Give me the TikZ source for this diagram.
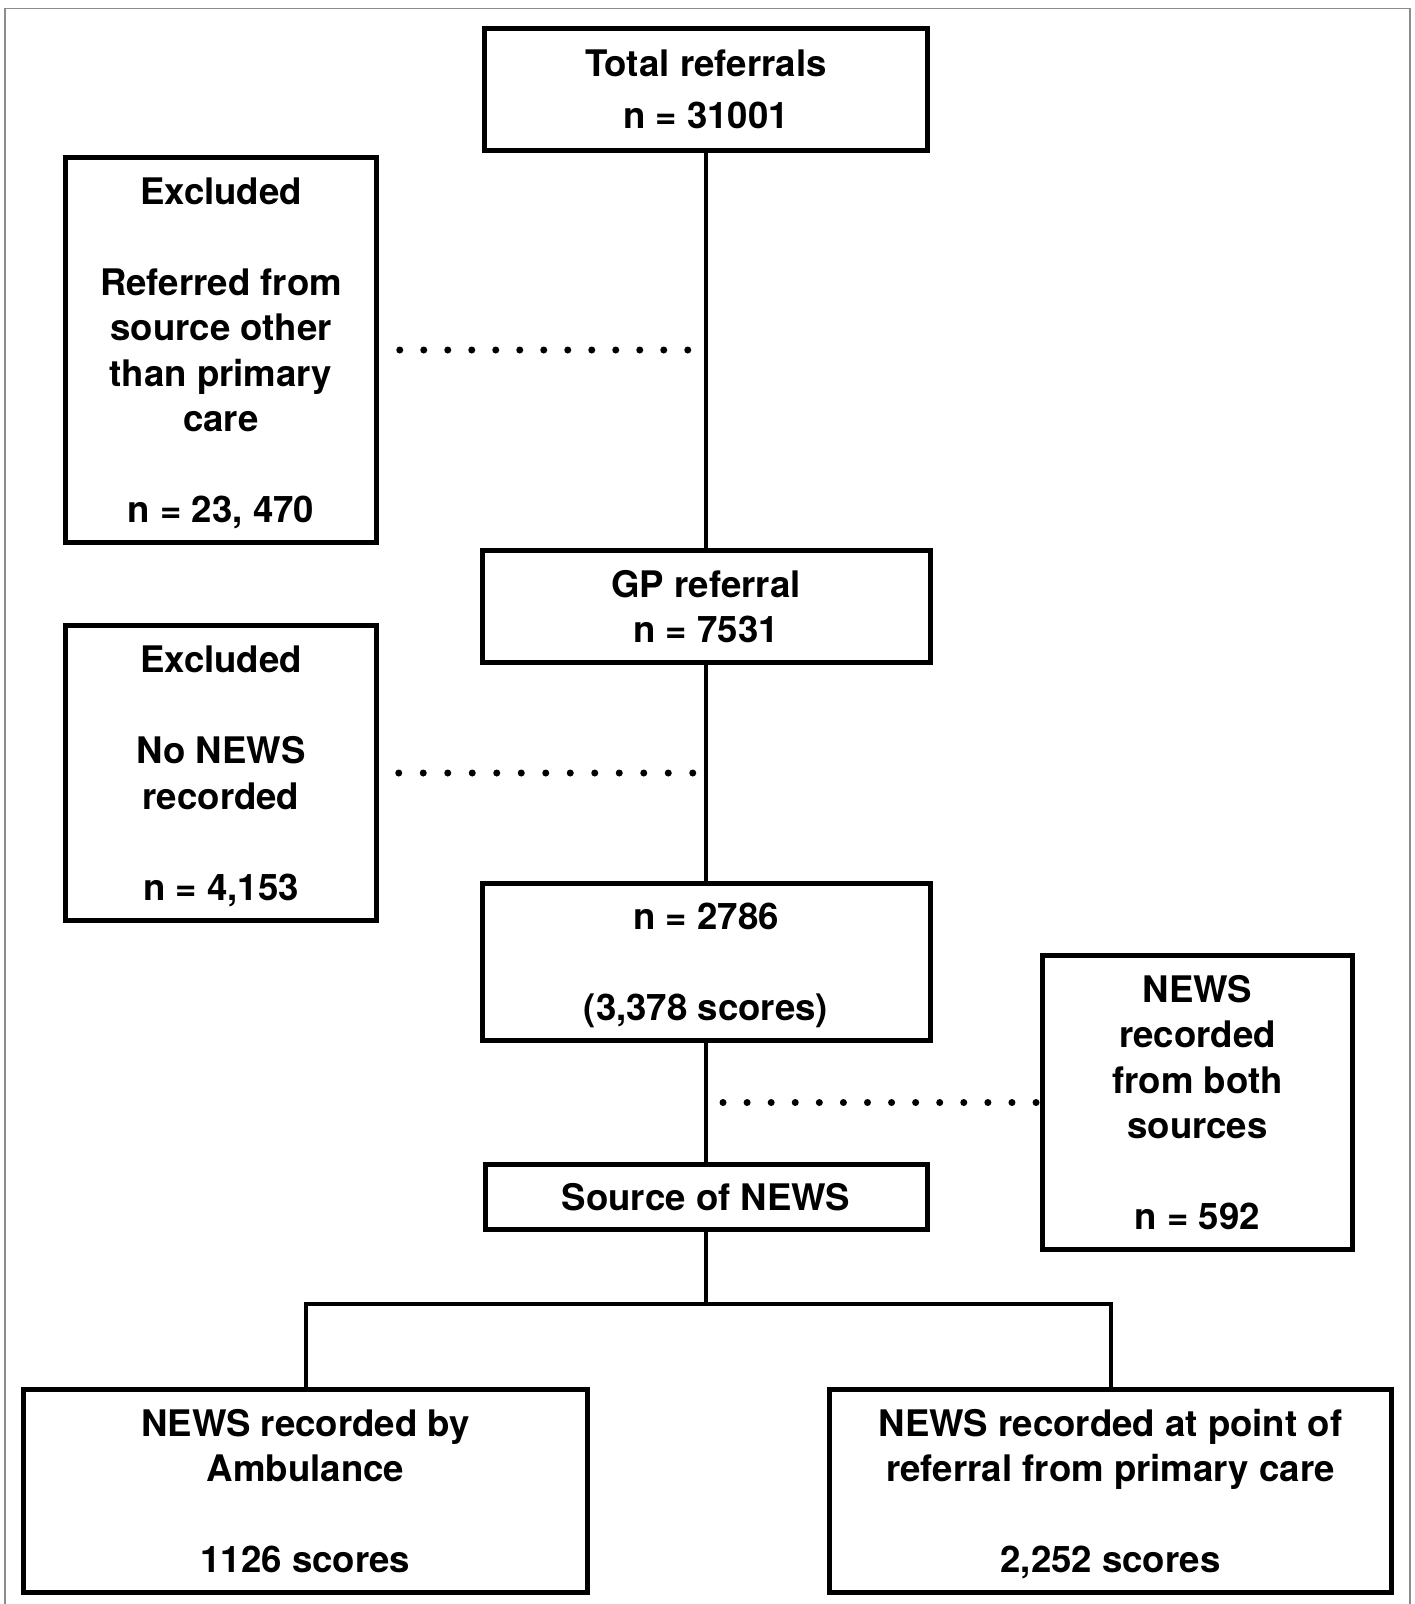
\documentclass[tikz,border=0pt]{standalone}
\usepackage{fontspec}
\setmainfont{TeX Gyre Heros}
\usepackage{tikz}
\usetikzlibrary{calc}

\begin{document}
\begin{tikzpicture}[x=1pt,y=-1pt,
    box/.style={draw,line width=5pt,align=center,inner sep=0pt,text depth=0pt,
      font=\bfseries\fontsize{36.6}{45.5}\selectfont},
    link/.style={line width=4pt},
    dotline/.style={line width=7pt,line cap=round,dash pattern=on 0pt off #1},
    dotline/.default=24pt,
    frame/.style={draw=black!45,line width=1.5pt}]
      \useasboundingbox (0,0) rectangle (1414,1604);
      \draw[frame] (5,1604) -- (5,8.7) -- (1410,8.7) -- (1410,1604);

      \node[box,minimum width=443pt,minimum height=122pt] (total) at (706,89)
        {Total referrals\\[6.5pt]n = 31001};
      \node[box,minimum width=311.5pt,minimum height=384.5pt] (excl1) at (221,350)
        {Excluded\\[45.5pt]Referred from\\source other\\than primary\\care\\[45.5pt]n = 23, 470};
      \node[box,minimum width=448pt,minimum height=112pt] (gp) at (706,606.5)
        {GP referral\\n = 7531};
      \node[box,minimum width=311.5pt,minimum height=295pt] (excl2) at (221,773)
        {Excluded\\[45.5pt]No NEWS\\recorded\\[45.5pt]n = 4,153};
      \node[box,minimum width=448pt,minimum height=157pt] (kept) at (706,962)
        {n = 2786\\[45.5pt](3,378 scores)};
      \node[box,minimum width=442pt,minimum height=65pt] (source) at (706,1197)
        {Source of NEWS};
      \node[box,minimum width=310pt,minimum height=294pt] (both) at (1197.5,1102.5)
        {NEWS\\recorded\\from both\\sources\\[45.5pt]n = 592};
      \node[box,minimum width=564pt,minimum height=203pt] (amb) at (305.5,1491)
        {NEWS recorded by\\Ambulance\\[45.5pt]1126 scores};
      \node[box,minimum width=562pt,minimum height=203pt] (prim) at (1110.5,1491)
        {NEWS recorded at point of\\referral from primary care\\[45.5pt]2,252 scores};

      \draw[link] (total) -- (gp);
      \draw[link] (gp) -- (kept);
      \draw[link] (kept) -- (source);
      \draw[link] (source.south) -- ++(0,72) coordinate (fork) -| (amb.north);
      \draw[link] (fork) -| (prim.north);

      \draw[dotline] ([xshift=20.5pt]excl1.east) -- ([xshift=-17.5pt]excl1.east -| total.south);
      \draw[dotline=24.5pt] ([xshift=19.5pt]excl2.east) -- ([xshift=-12.5pt]excl2.east -| gp.south);
      \draw[dotline=24.08pt] ([xshift=17pt]both.west -| source.north) -- ([xshift=-3.5pt]both.west);
\end{tikzpicture}
\end{document}
